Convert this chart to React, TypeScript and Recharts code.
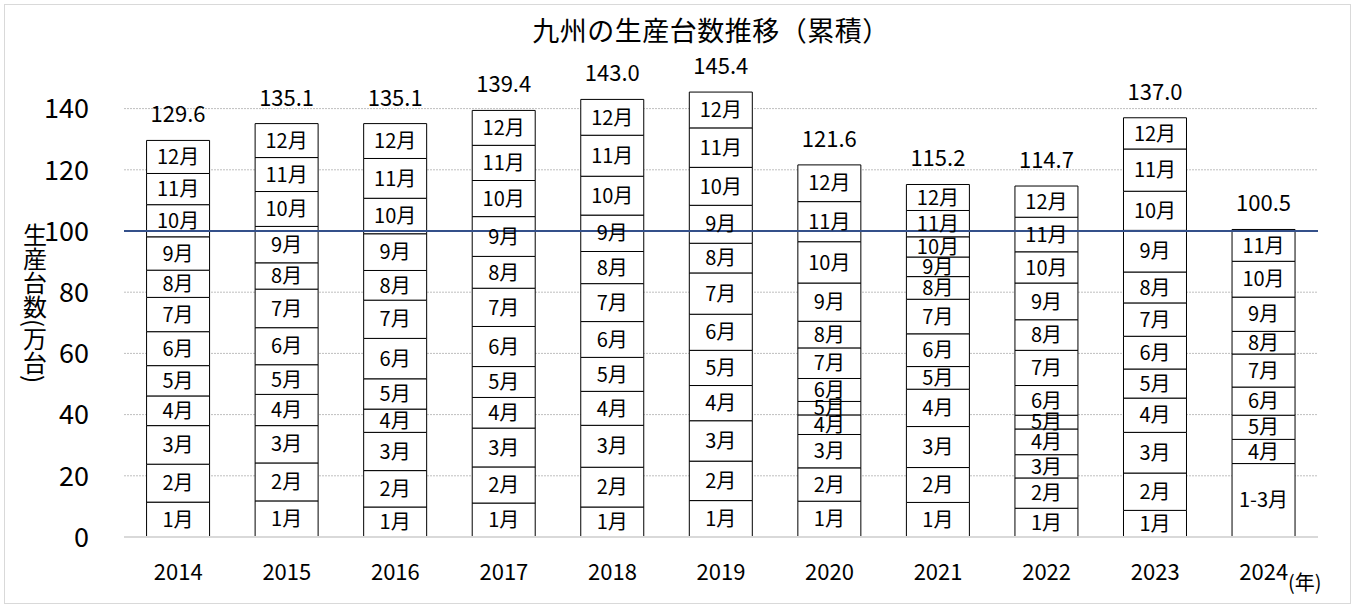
import React from 'react';
import { BarChart, Bar, XAxis, YAxis, CartesianGrid, ReferenceLine, LabelList, Label } from 'recharts';

const years = ['2014', '2015', '2016', '2017', '2018', '2019', '2020', '2021', '2022', '2023', '2024'];
const m1 = [11.4, 11.8, 9.8, 11.1, 9.8, 11.9, 11.7, 11.3, 9.4, 8.7, 24.0];
const m2 = [12.4, 12.4, 11.9, 11.8, 13.0, 12.9, 10.9, 11.4, 9.9, 12.2, null];
const m3 = [12.6, 12.2, 12.5, 12.7, 13.7, 13.2, 10.9, 13.4, 7.6, 13.3, null];
const m4 = [9.7, 10.2, 7.6, 10.0, 11.1, 11.5, 6.4, 12.2, 8.4, 11.2, 7.9];
const m5 = [9.9, 9.7, 9.9, 10.1, 11.1, 11.5, 4.4, 7.4, 4.5, 9.5, 7.9];
const m6 = [11.1, 12.1, 13.2, 13.1, 11.7, 11.8, 7.5, 10.7, 9.7, 10.7, 9.2];
const m7 = [11.2, 12.6, 12.5, 12.5, 12.4, 13.5, 10.0, 11.3, 11.5, 10.9, 10.8];
const m8 = [8.9, 8.6, 9.7, 10.4, 10.5, 9.7, 8.7, 7.4, 10.0, 10.1, 7.4];
const m9 = [10.9, 11.9, 12.0, 13.0, 11.9, 12.4, 12.5, 6.4, 12.0, 13.6, 11.2];
const m10 = [10.5, 11.4, 11.6, 11.8, 12.7, 12.4, 13.5, 6.6, 10.2, 12.8, 11.7];
const m11 = [10.2, 11.1, 13.0, 11.5, 13.4, 12.9, 13.1, 8.6, 11.3, 13.8, 10.4];
const m12 = [10.8, 11.1, 11.4, 11.4, 11.7, 11.7, 12.0, 8.5, 10.2, 10.2, null];
const totals = [129.6, 135.1, 135.1, 139.4, 143.0, 145.4, 121.6, 115.2, 114.7, 137.0, 100.5];
const firstSegLabels = ['1月', '1月', '1月', '1月', '1月', '1月', '1月', '1月', '1月', '1月', '1-3月'];
const monthLabels = ['1月', '2月', '3月', '4月', '5月', '6月', '7月', '8月', '9月', '10月', '11月', '12月'];
const yTicks = [0, 20, 40, 60, 80, 100, 120, 140];

const monthSeries = [m1, m2, m3, m4, m5, m6, m7, m8, m9, m10, m11, m12];
const monthKeys = monthSeries.map((_, i) => 'm' + (i + 1));

// index of the topmost segment of each year's stack (where the total label sits)
const topSeg = years.map((_, i) => {
  let t = 0;
  monthSeries.forEach((s, k) => {
    if (s[i] !== null && s[i] !== undefined) t = k;
  });
  return t;
});

const data = years.map((y, i) => {
  const row: any = { year: y, total: totals[i] };
  monthSeries.forEach((s, k) => {
    row[monthKeys[k]] = s[i];
  });
  return row;
});

const FONT = '"Noto Sans CJK JP", "Noto Sans", sans-serif';

const makeSegLabel = (k: number) => (props: any) => {
  const { x, y, width, height, value, index } = props;
  if (value === null || value === undefined || !height) return null;
  const text = k === 0 ? firstSegLabels[index] : monthLabels[k];
  return (
    <g>
      <text
        x={x + width / 2}
        y={y + height / 2}
        dy="0.36em"
        textAnchor="middle"
        fontSize={20}
        fontFamily={FONT}
        fill="#000"
      >
        {text}
      </text>
      {topSeg[index] === k ? (
        <text
          x={x + width / 2}
          y={y - 26}
          dy="0.36em"
          textAnchor="middle"
          fontSize={22}
          fontFamily={FONT}
          fill="#000"
        >
          {totals[index].toFixed(1)}
        </text>
      ) : null}
    </g>
  );
};

const XTick = (props: any) => {
  const { x, y, payload } = props;
  return (
    <text x={x} y={y + 35} dy="0.36em" textAnchor="middle" fontSize={22} fontFamily={FONT} fill="#000">
      {payload.value}
    </text>
  );
};

const YTick = (props: any) => {
  const { x, y, payload } = props;
  return (
    <text x={x} y={y} dy="0.36em" textAnchor="end" fontSize={27} fontFamily={FONT} fill="#000">
      {payload.value}
    </text>
  );
};

export default function App() {
  return (
    <div style={{ position: 'absolute', left: 0, top: 0, width: 1358, height: 607, background: '#fff' }}>
      <div
        style={{
          position: 'absolute',
          left: 4,
          top: 4,
          width: 1347,
          height: 600,
          border: '1px solid #d9d9d9',
          boxSizing: 'border-box',
        }}
      />
      <div
        style={{
          position: 'absolute',
          left: 0,
          top: 11,
          width: 1422,
          textAlign: 'center',
          fontSize: 27,
          letterSpacing: 0.5,
          lineHeight: '38px',
          fontFamily: FONT,
          color: '#000',
        }}
      >
        九州の生産台数推移（累積）
      </div>
      <div style={{ position: 'absolute', left: 0, top: 0 }}>
        <BarChart
          width={1358}
          height={607}
          data={data}
          margin={{ top: 78, right: 40, bottom: 0, left: 0 }}
          barCategoryGap="20.8%"
        >
          <CartesianGrid
            horizontal
            vertical={false}
            stroke="#bfbfbf"
            strokeDasharray="2 1"
            horizontalValues={yTicks}
          />
          <XAxis
            dataKey="year"
            height={70}
            tickLine={false}
            tickSize={0}
            tickMargin={0}
            axisLine={{ stroke: '#d9d9d9', strokeWidth: 2 }}
            tick={<XTick />}
            interval={0}
          >
            <Label
              content={(p: any) => {
                const vb = p.viewBox;
                return (
                  <text x={vb.x + vb.width - 30} y={vb.y + 53} fontSize={20} fontFamily={FONT} fill="#000">
                    (年)
                  </text>
                );
              }}
            />
          </XAxis>
          <YAxis
            width={124}
            domain={[0, 150]}
            ticks={yTicks}
            axisLine={false}
            tickLine={false}
            tickSize={0}
            tickMargin={35}
            tick={<YTick />}
          >
            <Label
              content={() => (
                <text
                  x={35}
                  y={303}
                  textAnchor="middle"
                  fontSize={24}
                  fontFamily={FONT}
                  fill="#000"
                  style={{ writingMode: 'vertical-rl' } as any}
                >
                  生産台数(万台)
                </text>
              )}
            />
          </YAxis>
          {monthKeys.map((key, k) => (
            <Bar
              key={key}
              dataKey={key}
              stackId="a"
              fill="#ffffff"
              stroke="#000000"
              strokeWidth={1}
              isAnimationActive={false}
            >
              <LabelList dataKey={key} content={makeSegLabel(k)} />
            </Bar>
          ))}
          <ReferenceLine y={100} stroke="#34508a" strokeWidth={2} />
        </BarChart>
      </div>
    </div>
  );
}
